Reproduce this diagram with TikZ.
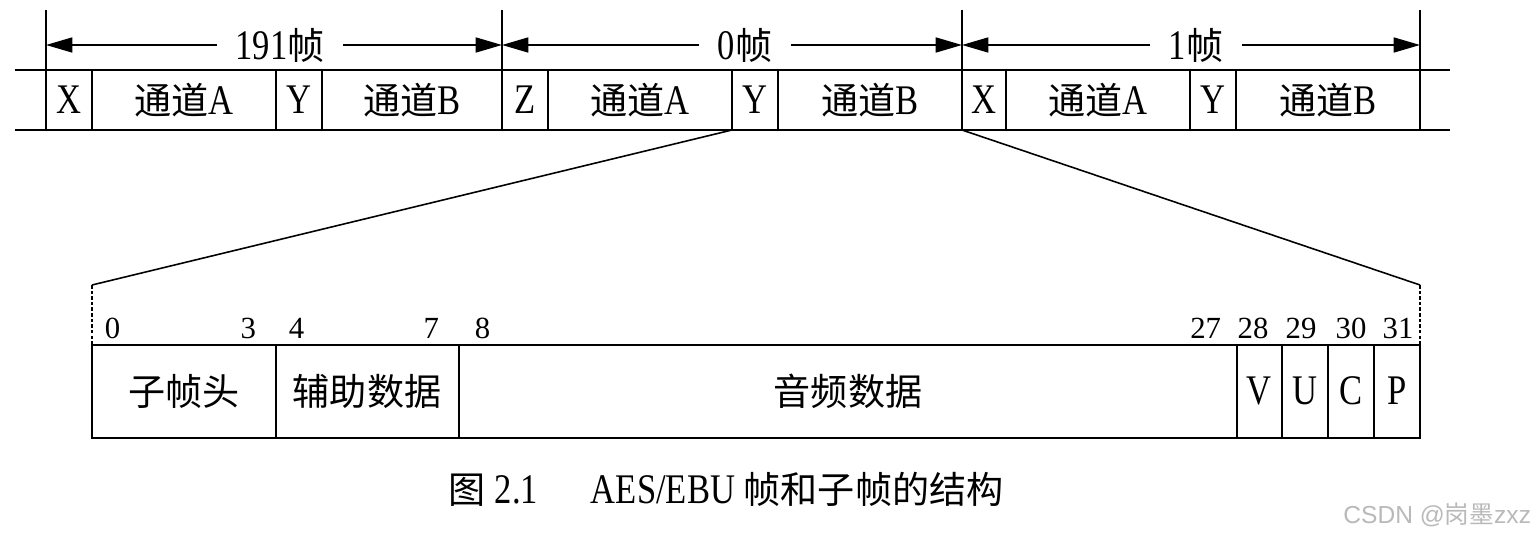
\documentclass[tikz,border=0pt]{standalone}
\usepackage{fontspec}
\setmainfont{Liberation Serif}
\newfontfamily\narrow[FakeStretch=0.82]{Liberation Serif}
\newfontfamily\cjk[Scale=0.88]{Noto Sans CJK SC}
\newfontfamily\wmfont{Liberation Sans}
\newfontfamily\wmcjk{Noto Sans CJK SC}
\usetikzlibrary{positioning,arrows.meta}

\begin{document}
\begin{tikzpicture}[x=0.02cm, y=-0.02cm, line width=1.1pt,
    lbl/.style={font=\narrow\fontsize{24}{24}\selectfont, inner sep=0pt},
    framelbl/.style={font=\narrow\fontsize{24}{24}\selectfont, inner xsep=10pt, inner ysep=0pt},
    bitnum/.style={font=\fontsize{17.5}{17.5}\selectfont, inner sep=0pt},
    dim/.style={-{Triangle[length=15pt,width=8.5pt]}},
    divider/.style={line width=0.8pt},
    zoomline/.style={line width=0.9pt, dash pattern=on 2pt off 1.2pt}]
    \useasboundingbox (0,0) rectangle (1537,540);

    % Rahmenfolge oben
    \draw (15,70) -- (1450,70);
    \draw (15,130) -- (1450,130);
    \draw[line width=1.6pt] (46,10) -- (46,130);
    \foreach \x in {502,962,1420}
        \draw (\x,10) -- (\x,130);
    \foreach \x in {92,276,322,548,732,778,1006,1190,1236}
        \draw[divider] (\x,70) -- (\x,130);

    % Felder der Unterrahmen
    \foreach \x/\t [count=\i] in {69/X, 184/{\cjk 通道}A, 299/Y, 412/{\cjk 通道}B,
                                  525/Z, 640/{\cjk 通道}A, 755/Y, 870/{\cjk 通道}B,
                                  984/X, 1098/{\cjk 通道}A, 1213/Y, 1328/{\cjk 通道}B}
        \node[lbl] (top\i) at (\x,100) {\t};

    % Rahmenbreiten
    \coordinate (f0) at (46,45);
    \coordinate (f1) at (502,45);
    \coordinate (f2) at (962,45);
    \coordinate (f3) at (1420,45);
    \node[framelbl] (n191) at (280,45) {191{\cjk 帧}};
    \node[framelbl] (n0) at (745,45) {0{\cjk 帧}};
    \node[framelbl] (n1) at (1196,45) {1{\cjk 帧}};
    \draw[dim] (n191) -- (f0);
    \draw[dim] (n191) -- (f1);
    \draw[dim] (n0) -- (f1);
    \draw[dim] (n0) -- (f2);
    \draw[dim] (n1) -- (f2);
    \draw[dim] (n1) -- (f3);

    % Vergroesserung des Unterrahmens
    \coordinate (ya) at (732,130);
    \coordinate (yb) at (962,130);
    \coordinate (sl) at (92,285);
    \coordinate (sr) at (1420,285);
    \coordinate (bl) at (92,345);
    \coordinate (br) at (1420,345);
    \draw[line width=0.9pt] (ya) -- (sl);
    \draw[line width=0.9pt] (yb) -- (sr);
    \draw[zoomline] (sl) -- (bl);
    \draw[zoomline] (sr) -- (br);

    % Unterrahmen
    \draw[divider] (bl) rectangle (1420,438);
    \foreach \x in {276,459,1237,1282,1328,1374}
        \draw[divider] (\x,345) -- (\x,438);
    \foreach \x/\t [count=\i] in {184/{\cjk 子帧头}, 367/{\cjk 辅助数据}, 848/{\cjk 音频数据},
                                  1259/V, 1305/U, 1351/C, 1397/P}
        \node[lbl] (sub\i) at (\x,391) {\t};

    % Bitnummern
    \node[bitnum, anchor=base west] (b0) at (104,338) {0};
    \node[bitnum, anchor=base east] (b3) at (257,338) {3};
    \node[bitnum, anchor=base west] (b4) at (288,338) {4};
    \node[bitnum, anchor=base east] (b7) at (440,338) {7};
    \node[bitnum, anchor=base west] (b8) at (474,338) {8};
    \node[bitnum, anchor=base east] (b27) at (1222,338) {27};
    \foreach \x/\t in {1253/28, 1301/29, 1351/30, 1398/31}
        \node[bitnum, anchor=base] (b\t) at (\x,338) {\t};

    % Bildunterschrift
    \node[lbl, anchor=base west] (fig) at (448,503) {{\cjk 图} 2.1};
    \node[lbl, anchor=base west] (cap) at (590,503) {AES/EBU {\cjk 帧和子帧的结构}};
    \node[font=\wmfont\fontsize{14}{14}\selectfont, text=gray!55, anchor=base east, inner sep=0pt]
        (wm) at (1532,523) {CSDN @{\wmcjk 岗墨}zxz};
\end{tikzpicture}
\end{document}
